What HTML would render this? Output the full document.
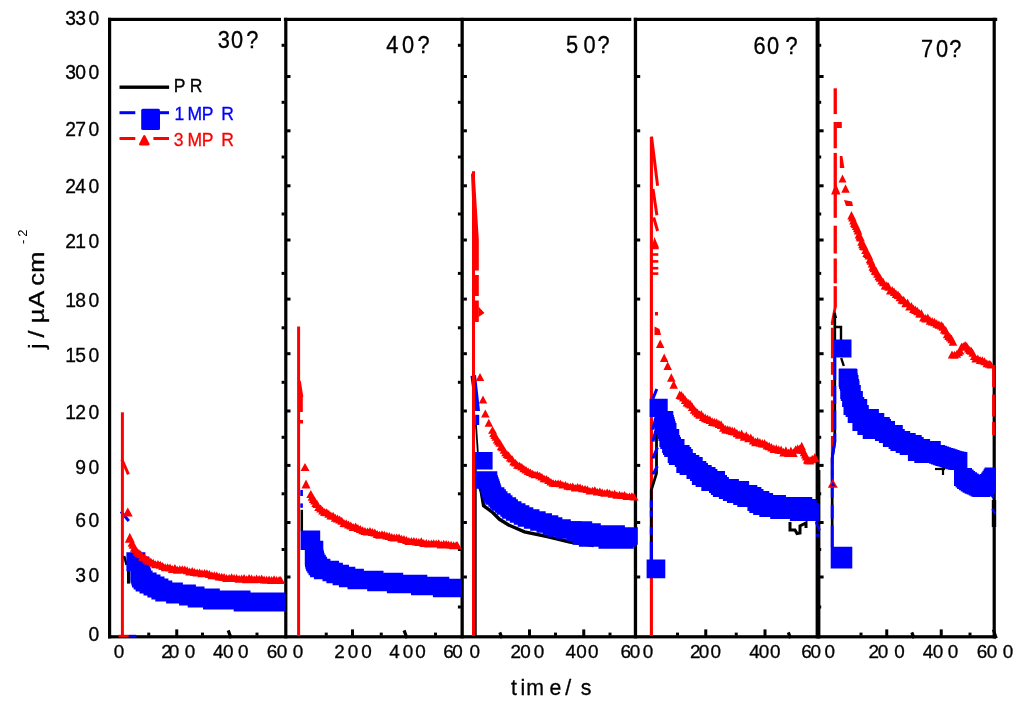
<!DOCTYPE html><html><head><meta charset="utf-8"><title>chart</title><style>html,body{margin:0;padding:0;background:#fff}body{width:1024px;height:705px;overflow:hidden}</style></head><body><svg width="1024" height="705" viewBox="0 0 1024 705" style="display:block;will-change:transform">
<rect x="0.00" y="0.00" width="1024.00" height="705.00" fill="#fff"/>
<rect x="108.00" y="17.80" width="173.00" height="3.20" fill="#000"/><rect x="283.90" y="17.80" width="347.40" height="3.20" fill="#000"/><rect x="633.80" y="17.80" width="363.40" height="3.20" fill="#000"/><rect x="108.00" y="635.20" width="888.00" height="3.20" fill="#000"/><rect x="108.00" y="17.80" width="3.20" height="620.60" fill="#000"/><rect x="284.20" y="17.80" width="3.20" height="620.60" fill="#000"/><rect x="460.50" y="17.80" width="3.30" height="620.60" fill="#000"/><rect x="633.80" y="17.80" width="3.30" height="620.60" fill="#000"/><rect x="815.60" y="17.80" width="4.00" height="620.60" fill="#000"/><rect x="817.50" y="470.00" width="2.90" height="168.40" fill="#000"/><rect x="992.60" y="17.80" width="3.20" height="620.60" fill="#000"/><rect x="286.90" y="75.00" width="3.60" height="3.00" fill="#000"/><rect x="286.90" y="129.30" width="3.60" height="3.00" fill="#000"/><rect x="286.90" y="184.30" width="3.60" height="3.00" fill="#000"/><rect x="286.90" y="238.50" width="3.60" height="3.00" fill="#000"/><rect x="286.90" y="297.60" width="3.60" height="3.00" fill="#000"/><rect x="286.90" y="352.20" width="3.60" height="3.00" fill="#000"/><rect x="286.90" y="409.50" width="3.60" height="3.00" fill="#000"/><rect x="286.90" y="463.90" width="3.60" height="3.00" fill="#000"/><rect x="286.90" y="521.00" width="3.60" height="3.00" fill="#000"/><rect x="286.90" y="575.50" width="3.60" height="3.00" fill="#000"/><rect x="281.60" y="43.80" width="3.00" height="3.00" fill="#000"/><rect x="281.60" y="100.80" width="3.00" height="3.00" fill="#000"/><rect x="281.60" y="155.50" width="3.00" height="3.00" fill="#000"/><rect x="281.60" y="212.50" width="3.00" height="3.00" fill="#000"/><rect x="281.60" y="271.90" width="3.00" height="3.00" fill="#000"/><rect x="281.60" y="326.30" width="3.00" height="3.00" fill="#000"/><rect x="281.60" y="380.80" width="3.00" height="3.00" fill="#000"/><rect x="281.60" y="435.80" width="3.00" height="3.00" fill="#000"/><rect x="281.60" y="492.30" width="3.00" height="3.00" fill="#000"/><rect x="281.60" y="548.00" width="3.00" height="3.00" fill="#000"/><rect x="281.60" y="605.50" width="3.00" height="3.00" fill="#000"/><rect x="463.30" y="75.00" width="3.60" height="3.00" fill="#000"/><rect x="463.30" y="129.30" width="3.60" height="3.00" fill="#000"/><rect x="463.30" y="184.30" width="3.60" height="3.00" fill="#000"/><rect x="463.30" y="238.50" width="3.60" height="3.00" fill="#000"/><rect x="463.30" y="297.60" width="3.60" height="3.00" fill="#000"/><rect x="463.30" y="352.20" width="3.60" height="3.00" fill="#000"/><rect x="463.30" y="409.50" width="3.60" height="3.00" fill="#000"/><rect x="463.30" y="463.90" width="3.60" height="3.00" fill="#000"/><rect x="463.30" y="521.00" width="3.60" height="3.00" fill="#000"/><rect x="463.30" y="575.50" width="3.60" height="3.00" fill="#000"/><rect x="457.90" y="43.80" width="3.00" height="3.00" fill="#000"/><rect x="457.90" y="100.80" width="3.00" height="3.00" fill="#000"/><rect x="457.90" y="155.50" width="3.00" height="3.00" fill="#000"/><rect x="457.90" y="212.50" width="3.00" height="3.00" fill="#000"/><rect x="457.90" y="271.90" width="3.00" height="3.00" fill="#000"/><rect x="457.90" y="326.30" width="3.00" height="3.00" fill="#000"/><rect x="457.90" y="380.80" width="3.00" height="3.00" fill="#000"/><rect x="457.90" y="435.80" width="3.00" height="3.00" fill="#000"/><rect x="457.90" y="492.30" width="3.00" height="3.00" fill="#000"/><rect x="457.90" y="548.00" width="3.00" height="3.00" fill="#000"/><rect x="457.90" y="605.50" width="3.00" height="3.00" fill="#000"/><rect x="636.60" y="75.00" width="3.60" height="3.00" fill="#000"/><rect x="636.60" y="129.30" width="3.60" height="3.00" fill="#000"/><rect x="636.60" y="184.30" width="3.60" height="3.00" fill="#000"/><rect x="636.60" y="238.50" width="3.60" height="3.00" fill="#000"/><rect x="636.60" y="297.60" width="3.60" height="3.00" fill="#000"/><rect x="636.60" y="352.20" width="3.60" height="3.00" fill="#000"/><rect x="636.60" y="409.50" width="3.60" height="3.00" fill="#000"/><rect x="636.60" y="463.90" width="3.60" height="3.00" fill="#000"/><rect x="636.60" y="521.00" width="3.60" height="3.00" fill="#000"/><rect x="636.60" y="575.50" width="3.60" height="3.00" fill="#000"/><rect x="819.00" y="75.00" width="4.60" height="3.00" fill="#000"/><rect x="819.00" y="129.30" width="4.60" height="3.00" fill="#000"/><rect x="819.00" y="184.30" width="4.60" height="3.00" fill="#000"/><rect x="819.00" y="238.50" width="4.60" height="3.00" fill="#000"/><rect x="819.00" y="297.60" width="4.60" height="3.00" fill="#000"/><rect x="819.00" y="352.20" width="4.60" height="3.00" fill="#000"/><rect x="819.00" y="409.50" width="4.60" height="3.00" fill="#000"/><rect x="819.00" y="463.90" width="4.60" height="3.00" fill="#000"/><rect x="819.00" y="521.00" width="4.60" height="3.00" fill="#000"/><rect x="819.00" y="575.50" width="4.60" height="3.00" fill="#000"/><rect x="819.00" y="43.80" width="2.20" height="3.00" fill="#000"/><rect x="819.00" y="100.80" width="2.20" height="3.00" fill="#000"/><rect x="819.00" y="155.50" width="2.20" height="3.00" fill="#000"/><rect x="819.00" y="212.50" width="2.20" height="3.00" fill="#000"/><rect x="819.00" y="271.90" width="2.20" height="3.00" fill="#000"/><rect x="819.00" y="326.30" width="2.20" height="3.00" fill="#000"/><rect x="819.00" y="380.80" width="2.20" height="3.00" fill="#000"/><rect x="819.00" y="435.80" width="2.20" height="3.00" fill="#000"/><rect x="819.00" y="492.30" width="2.20" height="3.00" fill="#000"/><rect x="819.00" y="548.00" width="2.20" height="3.00" fill="#000"/><rect x="819.00" y="605.50" width="2.20" height="3.00" fill="#000"/><rect x="147.25" y="632.60" width="3.00" height="3.00" fill="#000"/><rect x="175.25" y="629.40" width="3.00" height="6.50" fill="#000"/><rect x="201.00" y="632.60" width="3.00" height="3.00" fill="#000"/><path d="M228.2 630.4L231.1 638.3" stroke="#000" stroke-width="3.2" fill="none"/><rect x="255.50" y="632.60" width="3.00" height="3.00" fill="#000"/><rect x="324.75" y="632.60" width="3.00" height="3.00" fill="#000"/><rect x="351.00" y="629.40" width="3.00" height="6.50" fill="#000"/><rect x="379.75" y="632.60" width="3.00" height="3.00" fill="#000"/><path d="M404.1 630.4L406.9 638.3" stroke="#000" stroke-width="3.2" fill="none"/><rect x="434.00" y="632.60" width="3.00" height="3.00" fill="#000"/><path d="M499.8 632.4L502.0 638.2" stroke="#000" stroke-width="3.2" fill="none"/><rect x="528.00" y="629.40" width="3.00" height="6.50" fill="#000"/><rect x="554.00" y="632.60" width="3.00" height="3.00" fill="#000"/><rect x="582.25" y="629.40" width="3.00" height="6.50" fill="#000"/><rect x="608.50" y="632.60" width="3.00" height="3.00" fill="#000"/><rect x="676.00" y="632.60" width="3.00" height="3.00" fill="#000"/><rect x="704.25" y="629.40" width="3.00" height="6.50" fill="#000"/><rect x="734.75" y="632.60" width="3.00" height="3.00" fill="#000"/><rect x="763.50" y="629.40" width="3.00" height="6.50" fill="#000"/><path d="M788.3 632.4L790.5 638.2" stroke="#000" stroke-width="3.2" fill="none"/><rect x="859.50" y="632.60" width="3.00" height="3.00" fill="#000"/><rect x="885.25" y="629.40" width="3.00" height="6.50" fill="#000"/><path d="M911.8 632.4L914.0 638.2" stroke="#000" stroke-width="3.2" fill="none"/><rect x="939.75" y="629.40" width="3.00" height="6.50" fill="#000"/><rect x="968.50" y="632.60" width="3.00" height="3.00" fill="#000"/><path d="M993.3 629.5L996.3 638.3" stroke="#000" stroke-width="3" fill="none"/>
<path fill="none" stroke="#0000ff" stroke-width="3" stroke-linecap="butt" stroke-linejoin="miter" d="M121.0 511.5 L128.8 521.0"/>
<path fill="none" stroke="#ff0000" stroke-width="3" stroke-linecap="butt" stroke-linejoin="miter" d="M122.4 412.3 L122.4 636.0"/>
<path fill="none" stroke="#ff0000" stroke-width="3" stroke-linecap="butt" stroke-linejoin="miter" d="M121.9 459.5 L128.4 474.4"/>
<path fill="none" stroke="#000" stroke-width="2.5" stroke-linecap="butt" stroke-linejoin="miter" d="M124.2 556.0 L126.6 565.0"/>
<path fill="none" stroke="#000" stroke-width="3.2" stroke-linecap="butt" stroke-linejoin="miter" d="M128.6 567.0 L128.6 583.6"/>
<rect x="118.50" y="634.80" width="10.30" height="2.60" fill="#ff0000"/>
<rect x="128.80" y="634.80" width="7.50" height="2.60" fill="#0000ff"/>
<path fill="#0000ff" d="M126.4 552.3h19v19h-19zM126.4 552.3h19v19h-19z"/>
<path fill="#0000ff" d="M130.4 556.5h19v19h-19zM130.4 558.5h19v19h-19zM130.4 560.5h19v19h-19zM130.4 562.5h19v19h-19zM130.7 564.5h19v19h-19zM131.4 566.5h19v19h-19zM132.0 568.5h19v19h-19zM133.6 570.5h19v19h-19zM135.6 572.5h19v19h-19zM137.6 572.5h19v19h-19zM139.5 574.5h19v19h-19zM141.5 574.5h19v19h-19zM143.5 576.5h19v19h-19zM145.5 576.5h19v19h-19zM147.4 578.5h19v19h-19zM149.4 578.5h19v19h-19zM151.4 580.5h19v19h-19zM153.3 580.5h19v19h-19zM155.3 582.5h19v19h-19zM157.4 582.5h19v19h-19zM159.6 582.5h19v19h-19zM161.7 582.5h19v19h-19zM163.9 582.5h19v19h-19zM166.1 584.5h19v19h-19zM168.2 584.5h19v19h-19zM170.4 584.5h19v19h-19zM172.6 584.5h19v19h-19zM174.7 584.5h19v19h-19zM176.9 584.5h19v19h-19zM179.1 586.5h19v19h-19zM181.2 586.5h19v19h-19zM183.4 586.5h19v19h-19zM185.5 586.5h19v19h-19zM187.7 588.5h19v19h-19zM189.9 588.5h19v19h-19zM192.0 588.5h19v19h-19zM194.2 588.5h19v19h-19zM196.4 588.5h19v19h-19zM198.6 588.5h19v19h-19zM200.8 588.5h19v19h-19zM203.0 590.5h19v19h-19zM205.1 590.5h19v19h-19zM207.3 590.5h19v19h-19zM209.5 590.5h19v19h-19zM211.7 590.5h19v19h-19zM213.9 590.5h19v19h-19zM216.1 590.5h19v19h-19zM218.3 590.5h19v19h-19zM220.5 590.5h19v19h-19zM222.7 590.5h19v19h-19zM224.9 590.5h19v19h-19zM227.1 590.5h19v19h-19zM229.3 590.5h19v19h-19zM231.5 590.5h19v19h-19zM233.7 592.5h19v19h-19zM235.9 592.5h19v19h-19zM238.1 592.5h19v19h-19zM240.3 592.5h19v19h-19zM242.5 592.5h19v19h-19zM244.7 592.5h19v19h-19zM246.9 592.5h19v19h-19zM249.1 592.5h19v19h-19zM251.3 592.5h19v19h-19zM253.5 592.5h19v19h-19zM255.7 592.5h19v19h-19zM257.9 592.5h19v19h-19zM260.1 592.5h19v19h-19zM262.3 592.5h19v19h-19zM264.5 592.5h19v19h-19zM266.2 592.5h19v19h-19z"/>
<path fill="#ff0000" d="M127.8 507.5l5 9h-10z"/>
<path fill="#ff0000" d="M129.8 532.7l5 10h-10z"/>
<path fill="#ff0000" d="M132.0 538.7l4.5 8h-9zM133.1 540.7l4.5 8h-9zM134.3 543.7l4.5 8h-9zM135.4 545.0l4.5 8h-9zM137.1 547.6l4.5 8h-9zM138.9 549.0l4.5 8h-9zM140.7 550.3l4.5 8h-9zM142.5 552.8l4.5 8h-9zM144.5 553.5l4.5 8h-9zM146.5 555.6l4.5 8h-9zM148.5 556.5l4.5 8h-9zM150.8 557.5l4.5 8h-9zM153.2 558.8l4.5 8h-9zM155.5 560.2l4.5 8h-9zM157.9 559.9l4.5 8h-9zM160.3 560.8l4.5 8h-9zM162.7 562.0l4.5 8h-9zM165.2 563.2l4.5 8h-9zM167.6 563.2l4.5 8h-9zM170.0 563.6l4.5 8h-9zM172.4 565.1l4.5 8h-9zM174.9 564.0l4.5 8h-9zM177.3 565.7l4.5 8h-9zM179.8 565.2l4.5 8h-9zM182.3 565.3l4.5 8h-9zM184.8 565.6l4.5 8h-9zM187.2 566.3l4.5 8h-9zM189.7 567.5l4.5 8h-9zM192.2 566.9l4.5 8h-9zM194.6 567.9l4.5 8h-9zM197.1 568.5l4.5 8h-9zM199.6 568.5l4.5 8h-9zM202.0 569.2l4.5 8h-9zM204.5 568.9l4.5 8h-9zM206.9 569.3l4.5 8h-9zM209.4 570.0l4.5 8h-9zM211.9 571.2l4.5 8h-9zM214.3 571.3l4.5 8h-9zM216.8 571.6l4.5 8h-9zM219.2 572.5l4.5 8h-9zM221.7 572.8l4.5 8h-9zM224.1 573.0l4.5 8h-9zM226.6 573.9l4.5 8h-9zM229.1 573.9l4.5 8h-9zM231.6 573.3l4.5 8h-9zM234.1 573.9l4.5 8h-9zM236.6 574.0l4.5 8h-9zM239.1 574.7l4.5 8h-9zM241.6 574.5l4.5 8h-9zM244.1 574.0l4.5 8h-9zM246.6 575.2l4.5 8h-9zM249.1 573.9l4.5 8h-9zM251.6 574.5l4.5 8h-9zM254.1 575.2l4.5 8h-9zM256.6 574.4l4.5 8h-9zM259.1 575.0l4.5 8h-9zM261.6 574.4l4.5 8h-9zM264.1 575.5l4.5 8h-9zM266.6 575.7l4.5 8h-9zM269.1 575.5l4.5 8h-9zM271.6 576.1l4.5 8h-9zM274.1 575.3l4.5 8h-9zM276.6 576.0l4.5 8h-9zM279.1 575.9l4.5 8h-9zM280.7 575.9l4.5 8h-9z"/>
<path fill="none" stroke="#ff0000" stroke-width="3" stroke-linecap="butt" stroke-linejoin="miter" d="M298.6 326.6 L298.6 636.0"/>
<path fill="none" stroke="#ff0000" stroke-width="3" stroke-linecap="butt" stroke-linejoin="miter" d="M299.3 381.0 L301.8 397.0"/>
<path fill="none" stroke="#ff0000" stroke-width="3.2" stroke-linecap="butt" stroke-linejoin="miter" d="M301.2 396.0 L301.2 412.0"/>
<rect x="300.00" y="420.00" width="3.00" height="3.50" fill="#ff0000"/>
<path fill="none" stroke="#000" stroke-width="2.5" stroke-linecap="butt" stroke-linejoin="miter" d="M301.8 509.8 L301.8 531.0"/>
<rect x="300.30" y="490.00" width="2.60" height="6.00" fill="#0000ff"/>
<rect x="300.30" y="503.40" width="2.60" height="4.40" fill="#0000ff"/>
<path fill="#0000ff" d="M300.6 530.4h19.6v19.6h-19.6zM300.6 530.4h19.6v19.6h-19.6z"/>
<path fill="#0000ff" d="M304.8 540.8h18.5v18.5h-18.5zM304.8 542.8h18.5v18.5h-18.5zM304.8 544.8h18.5v18.5h-18.5zM304.8 546.8h18.5v18.5h-18.5zM305.0 548.8h18.5v18.5h-18.5zM305.5 550.8h18.5v18.5h-18.5zM306.1 552.8h18.5v18.5h-18.5zM307.3 554.8h18.5v18.5h-18.5zM308.6 556.8h18.5v18.5h-18.5zM310.1 558.8h18.5v18.5h-18.5zM311.9 558.8h18.5v18.5h-18.5zM313.9 560.8h18.5v18.5h-18.5zM316.1 560.8h18.5v18.5h-18.5zM318.3 560.8h18.5v18.5h-18.5zM320.5 560.8h18.5v18.5h-18.5zM322.5 562.8h18.5v18.5h-18.5zM324.4 562.8h18.5v18.5h-18.5zM326.4 564.8h18.5v18.5h-18.5zM328.4 564.8h18.5v18.5h-18.5zM330.5 564.8h18.5v18.5h-18.5zM332.6 566.8h18.5v18.5h-18.5zM334.7 566.8h18.5v18.5h-18.5zM336.8 566.8h18.5v18.5h-18.5zM338.9 568.8h18.5v18.5h-18.5zM341.1 568.8h18.5v18.5h-18.5zM343.2 568.8h18.5v18.5h-18.5zM345.4 568.8h18.5v18.5h-18.5zM347.5 570.8h18.5v18.5h-18.5zM349.7 570.8h18.5v18.5h-18.5zM351.9 570.8h18.5v18.5h-18.5zM354.1 570.8h18.5v18.5h-18.5zM356.3 570.8h18.5v18.5h-18.5zM358.5 570.8h18.5v18.5h-18.5zM360.6 570.8h18.5v18.5h-18.5zM362.8 570.8h18.5v18.5h-18.5zM365.0 570.8h18.5v18.5h-18.5zM367.2 572.8h18.5v18.5h-18.5zM369.4 572.8h18.5v18.5h-18.5zM371.6 572.8h18.5v18.5h-18.5zM373.8 572.8h18.5v18.5h-18.5zM376.0 572.8h18.5v18.5h-18.5zM378.2 572.8h18.5v18.5h-18.5zM380.3 572.8h18.5v18.5h-18.5zM382.5 572.8h18.5v18.5h-18.5zM384.7 572.8h18.5v18.5h-18.5zM386.9 574.8h18.5v18.5h-18.5zM389.1 574.8h18.5v18.5h-18.5zM391.3 574.8h18.5v18.5h-18.5zM393.5 574.8h18.5v18.5h-18.5zM395.7 574.8h18.5v18.5h-18.5zM397.9 574.8h18.5v18.5h-18.5zM400.1 574.8h18.5v18.5h-18.5zM402.3 574.8h18.5v18.5h-18.5zM404.5 574.8h18.5v18.5h-18.5zM406.7 574.8h18.5v18.5h-18.5zM408.8 574.8h18.5v18.5h-18.5zM411.0 576.8h18.5v18.5h-18.5zM413.2 576.8h18.5v18.5h-18.5zM415.4 576.8h18.5v18.5h-18.5zM417.6 576.8h18.5v18.5h-18.5zM419.8 576.8h18.5v18.5h-18.5zM422.0 576.8h18.5v18.5h-18.5zM424.2 576.8h18.5v18.5h-18.5zM426.4 576.8h18.5v18.5h-18.5zM428.6 576.8h18.5v18.5h-18.5zM430.8 576.8h18.5v18.5h-18.5zM432.9 578.8h18.5v18.5h-18.5zM435.1 578.8h18.5v18.5h-18.5zM437.3 578.8h18.5v18.5h-18.5zM439.5 578.8h18.5v18.5h-18.5zM441.7 578.8h18.5v18.5h-18.5zM443.2 578.8h18.5v18.5h-18.5z"/>
<path fill="#ff0000" d="M305.0 463.0l4.5 8h-9z"/>
<path fill="#ff0000" d="M306.0 479.5l4.5 9h-9z"/>
<path fill="#ff0000" d="M310.8 489.9l4.5 8h-9zM312.1 492.7l4.5 8h-9zM313.3 495.0l4.5 8h-9zM314.6 496.4l4.5 8h-9zM315.8 498.9l4.5 8h-9zM317.1 500.1l4.5 8h-9zM318.7 503.0l4.5 8h-9zM320.7 504.5l4.5 8h-9zM322.6 506.6l4.5 8h-9zM324.6 507.9l4.5 8h-9zM326.7 508.3l4.5 8h-9zM328.8 509.8l4.5 8h-9zM330.9 511.6l4.5 8h-9zM333.1 511.8l4.5 8h-9zM335.3 513.7l4.5 8h-9zM337.5 514.5l4.5 8h-9zM339.7 515.6l4.5 8h-9zM341.8 516.7l4.5 8h-9zM344.0 519.1l4.5 8h-9zM346.2 519.3l4.5 8h-9zM348.5 520.5l4.5 8h-9zM350.8 521.5l4.5 8h-9zM353.2 523.1l4.5 8h-9zM355.6 522.6l4.5 8h-9zM357.9 524.0l4.5 8h-9zM360.3 525.0l4.5 8h-9zM362.7 526.3l4.5 8h-9zM365.0 527.0l4.5 8h-9zM367.5 527.6l4.5 8h-9zM369.9 527.1l4.5 8h-9zM372.4 528.0l4.5 8h-9zM374.8 528.6l4.5 8h-9zM377.2 530.0l4.5 8h-9zM379.6 530.8l4.5 8h-9zM382.0 530.2l4.5 8h-9zM384.4 530.8l4.5 8h-9zM386.9 531.4l4.5 8h-9zM389.3 532.0l4.5 8h-9zM391.8 532.9l4.5 8h-9zM394.2 533.6l4.5 8h-9zM396.7 533.5l4.5 8h-9zM399.1 533.6l4.5 8h-9zM401.6 534.7l4.5 8h-9zM404.0 535.1l4.5 8h-9zM406.5 535.9l4.5 8h-9zM408.9 537.0l4.5 8h-9zM411.4 537.0l4.5 8h-9zM413.9 537.0l4.5 8h-9zM416.4 537.5l4.5 8h-9zM418.8 537.9l4.5 8h-9zM421.3 537.2l4.5 8h-9zM423.8 538.9l4.5 8h-9zM426.3 539.0l4.5 8h-9zM428.8 539.4l4.5 8h-9zM431.3 539.6l4.5 8h-9zM433.7 539.2l4.5 8h-9zM436.2 539.5l4.5 8h-9zM438.7 539.3l4.5 8h-9zM441.2 540.5l4.5 8h-9zM443.7 539.8l4.5 8h-9zM446.2 540.1l4.5 8h-9zM448.6 540.6l4.5 8h-9zM451.1 540.8l4.5 8h-9zM453.6 541.3l4.5 8h-9zM456.1 541.2l4.5 8h-9zM457.3 541.2l4.5 8h-9z"/>
<path fill="#0000ff" d="M470.5 376L476 375L480 411L475 411z"/>
<path fill="none" stroke="#ff0000" stroke-width="3" stroke-linecap="butt" stroke-linejoin="miter" d="M473.5 171.3 L473.5 636.0"/>
<path fill="#ff0000" d="M471 174L474.5 171.5L478.8 240L478.8 270.5L475 270.5z"/>
<rect x="475.00" y="275.00" width="3.80" height="21.00" fill="#ff0000"/>
<rect x="475.00" y="300.50" width="3.80" height="21.50" fill="#ff0000"/>
<path fill="#ff0000" d="M478.5 306.5L484.5 313L478.5 317z"/>
<path fill="none" stroke="#000" stroke-width="1.6" stroke-linecap="butt" stroke-linejoin="miter" d="M475.9 455.0 L475.9 636.0"/>
<path fill="none" stroke="#000" stroke-width="1.8" stroke-linecap="butt" stroke-linejoin="miter" d="M476.0 425.0 L477.8 452.0"/>
<path fill="none" stroke="#000" stroke-width="3.4" stroke-linecap="butt" stroke-linejoin="miter" d="M479.5 486.0 L481.3 492.0 L483.6 505.7 L492.7 512.5 L499.5 519.3 L508.6 525.0 L524.5 531.8 L547.2 536.5 L569.9 542.0 L593.7 545.6"/>
<rect x="475.20" y="414.80" width="4.00" height="10.20" fill="#0000ff"/>
<path fill="#0000ff" d="M475.0 452.0h17.6v17.6h-17.6zM475.0 452.0h17.6v17.6h-17.6z"/>
<path fill="#0000ff" d="M475.4 471.2h17.6v17.6h-17.6zM477.6 471.2h17.6v17.6h-17.6zM479.7 471.2h17.6v17.6h-17.6zM480.4 475.2h17.6v17.6h-17.6zM481.1 477.2h17.6v17.6h-17.6zM481.8 479.2h17.6v17.6h-17.6zM482.4 481.2h17.6v17.6h-17.6zM483.1 483.2h17.6v17.6h-17.6zM483.7 485.2h17.6v17.6h-17.6zM485.3 487.2h17.6v17.6h-17.6zM486.8 487.2h17.6v17.6h-17.6zM488.3 489.2h17.6v17.6h-17.6zM489.9 491.2h17.6v17.6h-17.6zM491.4 493.2h17.6v17.6h-17.6zM493.1 493.2h17.6v17.6h-17.6zM494.9 495.2h17.6v17.6h-17.6zM496.7 497.2h17.6v17.6h-17.6zM498.5 497.2h17.6v17.6h-17.6zM500.3 499.2h17.6v17.6h-17.6zM502.1 501.2h17.6v17.6h-17.6zM503.9 501.2h17.6v17.6h-17.6zM505.9 503.2h17.6v17.6h-17.6zM507.9 503.2h17.6v17.6h-17.6zM509.8 505.2h17.6v17.6h-17.6zM511.8 505.2h17.6v17.6h-17.6zM513.8 507.2h17.6v17.6h-17.6zM515.7 507.2h17.6v17.6h-17.6zM517.7 509.2h17.6v17.6h-17.6zM519.8 509.2h17.6v17.6h-17.6zM521.9 509.2h17.6v17.6h-17.6zM523.9 511.2h17.6v17.6h-17.6zM526.0 511.2h17.6v17.6h-17.6zM528.1 511.2h17.6v17.6h-17.6zM530.2 513.2h17.6v17.6h-17.6zM532.3 513.2h17.6v17.6h-17.6zM534.4 513.2h17.6v17.6h-17.6zM536.5 515.2h17.6v17.6h-17.6zM538.6 515.2h17.6v17.6h-17.6zM540.7 515.2h17.6v17.6h-17.6zM542.7 517.2h17.6v17.6h-17.6zM544.8 517.2h17.6v17.6h-17.6zM546.9 519.2h17.6v17.6h-17.6zM549.0 519.2h17.6v17.6h-17.6zM551.1 519.2h17.6v17.6h-17.6zM553.2 519.2h17.6v17.6h-17.6zM555.4 521.2h17.6v17.6h-17.6zM557.6 521.2h17.6v17.6h-17.6zM559.7 521.2h17.6v17.6h-17.6zM561.9 521.2h17.6v17.6h-17.6zM564.1 521.2h17.6v17.6h-17.6zM566.2 523.2h17.6v17.6h-17.6z"/>
<path fill="#0000ff" d="M568.2 523.2h17.6v17.6h-17.6zM570.3 521.2h17.6v17.6h-17.6zM572.5 527.2h17.6v17.6h-17.6zM574.6 521.2h17.6v17.6h-17.6zM576.7 525.2h17.6v17.6h-17.6zM578.9 529.2h17.6v17.6h-17.6zM581.0 523.2h17.6v17.6h-17.6zM583.2 523.2h17.6v17.6h-17.6zM585.4 525.2h17.6v17.6h-17.6zM587.6 529.2h17.6v17.6h-17.6zM589.8 529.2h17.6v17.6h-17.6zM591.9 525.2h17.6v17.6h-17.6zM594.1 527.2h17.6v17.6h-17.6zM596.3 527.2h17.6v17.6h-17.6zM598.5 531.2h17.6v17.6h-17.6zM600.7 527.2h17.6v17.6h-17.6zM602.9 529.2h17.6v17.6h-17.6zM605.1 525.2h17.6v17.6h-17.6zM607.3 525.2h17.6v17.6h-17.6zM609.5 529.2h17.6v17.6h-17.6zM611.7 531.2h17.6v17.6h-17.6zM613.9 531.2h17.6v17.6h-17.6zM616.1 531.2h17.6v17.6h-17.6zM618.3 529.2h17.6v17.6h-17.6zM620.2 527.2h17.6v17.6h-17.6z"/>
<path fill="#ff0000" d="M480.0 372.9l4.25 8h-8.5z"/>
<path fill="#ff0000" d="M483.0 395.4l4.25 8h-8.5z"/>
<path fill="#ff0000" d="M485.3 409.4l4.25 8h-8.5z"/>
<path fill="#ff0000" d="M488.8 418.8l4.25 8h-8.5z"/>
<path fill="#ff0000" d="M492.5 426.2l4.5 7.5h-9zM493.7 429.4l4.5 7.5h-9zM494.8 431.6l4.5 7.5h-9zM496.0 433.3l4.5 7.5h-9zM497.2 435.9l4.5 7.5h-9zM498.5 437.7l4.5 7.5h-9zM499.9 439.3l4.5 7.5h-9zM501.2 442.7l4.5 7.5h-9zM502.6 443.8l4.5 7.5h-9zM504.1 446.3l4.5 7.5h-9zM505.6 448.7l4.5 7.5h-9zM507.1 450.4l4.5 7.5h-9zM508.6 451.6l4.5 7.5h-9zM510.3 454.0l4.5 7.5h-9zM512.0 455.0l4.5 7.5h-9zM513.7 458.0l4.5 7.5h-9zM515.6 459.1l4.5 7.5h-9zM517.6 461.2l4.5 7.5h-9zM519.6 461.8l4.5 7.5h-9zM521.7 463.1l4.5 7.5h-9zM523.8 464.8l4.5 7.5h-9zM526.0 466.0l4.5 7.5h-9zM528.2 467.4l4.5 7.5h-9zM530.4 468.6l4.5 7.5h-9zM532.7 469.8l4.5 7.5h-9zM535.0 470.7l4.5 7.5h-9zM537.3 470.7l4.5 7.5h-9zM539.7 471.7l4.5 7.5h-9zM541.9 473.0l4.5 7.5h-9zM544.1 474.8l4.5 7.5h-9zM546.4 475.0l4.5 7.5h-9zM548.6 476.5l4.5 7.5h-9zM550.9 478.0l4.5 7.5h-9zM553.2 479.3l4.5 7.5h-9zM555.6 479.5l4.5 7.5h-9zM558.1 479.6l4.5 7.5h-9zM560.5 479.7l4.5 7.5h-9zM562.9 480.9l4.5 7.5h-9zM565.4 481.1l4.5 7.5h-9zM567.8 482.3l4.5 7.5h-9zM570.3 482.7l4.5 7.5h-9zM572.7 482.6l4.5 7.5h-9zM575.2 484.0l4.5 7.5h-9zM577.6 483.1l4.5 7.5h-9zM580.1 483.6l4.5 7.5h-9zM582.5 484.7l4.5 7.5h-9zM585.0 485.0l4.5 7.5h-9zM587.4 485.6l4.5 7.5h-9zM589.9 486.9l4.5 7.5h-9zM592.4 486.7l4.5 7.5h-9zM594.8 486.2l4.5 7.5h-9zM597.3 488.1l4.5 7.5h-9zM599.8 487.6l4.5 7.5h-9zM602.2 488.5l4.5 7.5h-9zM604.7 489.2l4.5 7.5h-9zM607.2 488.5l4.5 7.5h-9zM609.6 489.3l4.5 7.5h-9zM612.1 490.2l4.5 7.5h-9zM614.6 489.7l4.5 7.5h-9zM617.0 491.2l4.5 7.5h-9zM619.5 490.8l4.5 7.5h-9zM622.0 491.5l4.5 7.5h-9zM624.5 491.0l4.5 7.5h-9zM626.9 492.6l4.5 7.5h-9zM629.4 492.5l4.5 7.5h-9zM631.9 492.3l4.5 7.5h-9zM634.0 492.9l4.5 7.5h-9z"/>
<path fill="none" stroke="#ff0000" stroke-width="3.1" stroke-linecap="butt" stroke-linejoin="miter" d="M651.4 136.8 L651.4 636.0"/>
<path fill="none" stroke="#ff0000" stroke-width="3" stroke-linecap="butt" stroke-linejoin="miter" d="M651.5 136.8 L657.6 185.7"/>
<path fill="none" stroke="#ff0000" stroke-width="3" stroke-linecap="butt" stroke-linejoin="miter" d="M653.0 189.0 L656.9 215.2"/>
<path fill="none" stroke="#ff0000" stroke-width="3" stroke-linecap="butt" stroke-linejoin="miter" d="M653.7 217.5 L657.6 231.0"/>
<path fill="#ff0000" d="M651 249.3L654.5 237L658.7 247L658.7 249.3z"/>
<rect x="651.00" y="253.20" width="7.30" height="2.60" fill="#ff0000"/>
<rect x="651.00" y="260.10" width="7.30" height="2.60" fill="#ff0000"/>
<rect x="651.00" y="266.90" width="7.30" height="2.60" fill="#ff0000"/>
<rect x="651.00" y="272.30" width="7.30" height="2.60" fill="#ff0000"/>
<rect x="655.00" y="312.00" width="3.00" height="3.50" fill="#ff0000"/>
<path fill="none" stroke="#000" stroke-width="2.8" stroke-linecap="butt" stroke-linejoin="miter" d="M651.3 560.0 L651.3 490.2 L656.5 473.3 L656.5 420.0"/>
<rect x="649.80" y="500.30" width="3.10" height="7.80" fill="#0000ff"/>
<rect x="649.80" y="510.50" width="3.10" height="6.20" fill="#0000ff"/>
<rect x="649.80" y="526.90" width="3.10" height="7.80" fill="#0000ff"/>
<rect x="649.80" y="541.70" width="3.10" height="18.30" fill="#0000ff"/>
<path fill="none" stroke="#0000ff" stroke-width="3" stroke-linecap="butt" stroke-linejoin="miter" d="M656.8 389.0 L652.9 398.8"/>
<path fill="none" stroke="#0000ff" stroke-width="3" stroke-linecap="butt" stroke-linejoin="miter" d="M655.8 417.7 L652.9 429.6"/>
<path fill="none" stroke="#0000ff" stroke-width="3" stroke-linecap="butt" stroke-linejoin="miter" d="M655.8 430.6 L652.9 441.5"/>
<path fill="none" stroke="#0000ff" stroke-width="3" stroke-linecap="butt" stroke-linejoin="miter" d="M657.4 447.5 L652.9 458.4"/>
<path fill="none" stroke="#0000ff" stroke-width="3" stroke-linecap="butt" stroke-linejoin="miter" d="M657.4 466.3 L652.9 474.2"/>
<path fill="#0000ff" d="M646.6 559.6h18.7v18.7h-18.7zM646.6 559.6h18.7v18.7h-18.7z"/>
<path fill="#0000ff" d="M649.6 398.8h18.1v18.1h-18.1zM649.6 398.8h18.1v18.1h-18.1z"/>
<path fill="#0000ff" d="M654.7 413.0h18v18h-18zM655.3 411.0h18v18h-18zM655.9 415.0h18v18h-18zM656.5 417.0h18v18h-18zM657.0 419.0h18v18h-18zM657.6 421.0h18v18h-18zM658.5 423.0h18v18h-18zM659.4 429.0h18v18h-18zM660.3 431.0h18v18h-18zM661.2 429.0h18v18h-18zM662.1 435.0h18v18h-18zM663.0 437.0h18v18h-18zM664.2 439.0h18v18h-18zM665.3 439.0h18v18h-18zM666.5 439.0h18v18h-18zM667.7 445.0h18v18h-18zM668.9 447.0h18v18h-18zM670.1 445.0h18v18h-18zM671.6 445.0h18v18h-18zM673.2 447.0h18v18h-18zM674.8 449.0h18v18h-18zM676.3 455.0h18v18h-18zM677.9 453.0h18v18h-18zM679.6 457.0h18v18h-18zM681.3 455.0h18v18h-18zM683.0 457.0h18v18h-18zM684.7 457.0h18v18h-18zM686.5 461.0h18v18h-18zM688.3 461.0h18v18h-18zM690.0 463.0h18v18h-18zM691.9 467.0h18v18h-18zM693.7 465.0h18v18h-18zM695.6 469.0h18v18h-18zM697.5 467.0h18v18h-18zM699.4 469.0h18v18h-18zM701.3 473.0h18v18h-18zM703.1 473.0h18v18h-18zM705.0 471.0h18v18h-18zM707.0 471.0h18v18h-18zM709.0 475.0h18v18h-18zM710.9 477.0h18v18h-18zM712.9 479.0h18v18h-18zM714.9 479.0h18v18h-18zM716.9 479.0h18v18h-18zM718.9 481.0h18v18h-18zM720.9 479.0h18v18h-18zM722.9 483.0h18v18h-18zM725.0 481.0h18v18h-18zM727.0 485.0h18v18h-18zM729.1 485.0h18v18h-18zM731.1 481.0h18v18h-18zM733.2 487.0h18v18h-18zM735.2 485.0h18v18h-18zM737.3 489.0h18v18h-18zM739.3 485.0h18v18h-18zM741.4 487.0h18v18h-18zM743.4 487.0h18v18h-18zM745.5 489.0h18v18h-18zM747.4 493.0h18v18h-18zM749.3 495.0h18v18h-18zM751.3 491.0h18v18h-18zM753.2 497.0h18v18h-18zM755.1 493.0h18v18h-18zM757.2 495.0h18v18h-18zM759.3 499.0h18v18h-18zM761.5 499.0h18v18h-18zM763.7 499.0h18v18h-18zM765.8 499.0h18v18h-18zM768.0 495.0h18v18h-18zM770.2 501.0h18v18h-18zM772.3 497.0h18v18h-18zM774.5 497.0h18v18h-18zM776.7 497.0h18v18h-18zM778.9 499.0h18v18h-18zM781.1 497.0h18v18h-18zM783.3 497.0h18v18h-18zM785.5 501.0h18v18h-18zM787.7 501.0h18v18h-18zM789.9 503.0h18v18h-18zM792.1 497.0h18v18h-18zM794.3 497.0h18v18h-18zM796.5 501.0h18v18h-18zM798.7 499.0h18v18h-18zM800.9 503.0h18v18h-18zM801.0 503.0h18v18h-18z"/>
<path fill="none" stroke="#000" stroke-width="3" stroke-linecap="butt" stroke-linejoin="miter" d="M790.0 522.0 L790.0 530.0 L795.0 530.0 L797.0 533.5 L800.0 533.0 L800.0 526.0 L806.0 523.0 L806.0 528.0"/>
<path fill="none" stroke="#0000ff" stroke-width="2.6" stroke-linecap="butt" stroke-linejoin="miter" d="M816.0 522.0 L819.6 530.4"/>
<rect x="816.00" y="533.90" width="3.20" height="2.80" fill="#0000ff"/>
<path fill="#ff0000" d="M654.5 326.5l5 2.5l1.5 6h-6.5z"/>
<path fill="#ff0000" d="M660.2 339.6l4.25 8.5h-8.5z"/>
<path fill="#ff0000" d="M664.2 353.4l4.25 8.5h-8.5z"/>
<path fill="#ff0000" d="M667.7 361.4l4.25 8.5h-8.5z"/>
<path fill="#ff0000" d="M671.3 373.2l4.25 8.5h-8.5z"/>
<path fill="#ff0000" d="M673.7 380.2l4.25 8.5h-8.5z"/>
<path fill="#ff0000" d="M679.7 390.4l4.25 8.6h-8.5zM681.5 391.1l4.25 8.6h-8.5zM683.3 393.0l4.25 8.6h-8.5zM685.1 395.3l4.25 8.6h-8.5zM686.9 397.8l4.25 8.6h-8.5zM688.7 398.8l4.25 8.6h-8.5zM690.4 399.9l4.25 8.6h-8.5zM692.2 402.4l4.25 8.6h-8.5zM694.0 405.1l4.25 8.6h-8.5zM695.8 406.9l4.25 8.6h-8.5zM697.6 408.6l4.25 8.6h-8.5zM699.5 410.2l4.25 8.6h-8.5zM701.3 410.1l4.25 8.6h-8.5zM703.2 412.5l4.25 8.6h-8.5zM705.3 413.6l4.25 8.6h-8.5zM707.6 414.5l4.25 8.6h-8.5zM709.9 415.4l4.25 8.6h-8.5zM712.2 417.3l4.25 8.6h-8.5zM714.4 417.7l4.25 8.6h-8.5zM716.7 418.2l4.25 8.6h-8.5zM718.9 419.5l4.25 8.6h-8.5zM721.1 420.3l4.25 8.6h-8.5zM723.3 423.2l4.25 8.6h-8.5zM725.5 424.8l4.25 8.6h-8.5zM727.7 425.2l4.25 8.6h-8.5zM729.9 425.7l4.25 8.6h-8.5zM732.2 426.5l4.25 8.6h-8.5zM734.5 427.0l4.25 8.6h-8.5zM736.9 428.7l4.25 8.6h-8.5zM739.2 430.2l4.25 8.6h-8.5zM741.6 429.4l4.25 8.6h-8.5zM744.0 432.2l4.25 8.6h-8.5zM746.3 431.3l4.25 8.6h-8.5zM748.5 433.7l4.25 8.6h-8.5zM750.8 433.5l4.25 8.6h-8.5zM753.1 435.8l4.25 8.6h-8.5zM755.4 437.6l4.25 8.6h-8.5zM757.6 437.1l4.25 8.6h-8.5zM759.9 438.1l4.25 8.6h-8.5zM762.3 438.9l4.25 8.6h-8.5zM764.6 439.1l4.25 8.6h-8.5zM766.9 440.8l4.25 8.6h-8.5zM769.2 441.7l4.25 8.6h-8.5zM771.5 442.9l4.25 8.6h-8.5zM773.9 444.3l4.25 8.6h-8.5zM776.3 444.2l4.25 8.6h-8.5zM778.7 445.2l4.25 8.6h-8.5zM781.1 445.4l4.25 8.6h-8.5zM783.5 447.8l4.25 8.6h-8.5zM785.9 446.3l4.25 8.6h-8.5zM788.4 448.4l4.25 8.6h-8.5zM790.9 446.6l4.25 8.6h-8.5zM793.4 448.3l4.25 8.6h-8.5zM795.6 445.2l4.25 8.6h-8.5zM797.7 444.3l4.25 8.6h-8.5zM799.7 444.5l4.25 8.6h-8.5zM801.7 441.7l4.25 8.6h-8.5zM802.8 445.4l4.25 8.6h-8.5zM804.0 447.7l4.25 8.6h-8.5zM805.2 450.0l4.25 8.6h-8.5zM806.2 451.9l4.25 8.6h-8.5zM807.2 454.9l4.25 8.6h-8.5zM808.2 455.7l4.25 8.6h-8.5zM810.0 455.9l4.25 8.6h-8.5zM812.2 454.7l4.25 8.6h-8.5zM814.5 453.6l4.25 8.6h-8.5zM815.0 453.0l4.25 8.6h-8.5z"/>
<rect x="833.60" y="88.30" width="3.30" height="25.80" fill="#ff0000"/>
<rect x="833.60" y="122.00" width="3.30" height="26.30" fill="#ff0000"/>
<rect x="833.60" y="152.90" width="3.30" height="64.90" fill="#ff0000"/>
<rect x="833.60" y="225.70" width="3.30" height="27.80" fill="#ff0000"/>
<rect x="833.60" y="258.50" width="3.30" height="24.80" fill="#ff0000"/>
<rect x="833.60" y="286.20" width="3.30" height="21.30" fill="#ff0000"/>
<rect x="836.50" y="122.00" width="5.30" height="6.00" fill="#ff0000"/>
<path fill="#ff0000" d="M835.8 183.4l4.7 11h-9.4z"/>
<path fill="none" stroke="#ff0000" stroke-width="2.8" stroke-linecap="butt" stroke-linejoin="miter" d="M835.2 307.0 L832.2 323.0"/>
<rect x="830.90" y="322.00" width="2.60" height="3.00" fill="#ff0000"/>
<rect x="830.90" y="327.70" width="2.60" height="30.60" fill="#ff0000"/>
<rect x="830.90" y="362.00" width="2.60" height="12.80" fill="#ff0000"/>
<rect x="830.90" y="380.00" width="2.60" height="16.50" fill="#ff0000"/>
<rect x="830.90" y="400.40" width="2.60" height="31.80" fill="#ff0000"/>
<rect x="830.90" y="436.00" width="2.60" height="28.10" fill="#ff0000"/>
<rect x="830.90" y="470.50" width="2.60" height="5.10" fill="#ff0000"/>
<path fill="none" stroke="#000" stroke-width="2.7" stroke-linecap="butt" stroke-linejoin="miter" d="M834.8 313.0 L834.8 442.0 L832.2 458.0 L832.2 547.0"/>
<path fill="none" stroke="#000" stroke-width="2.4" stroke-linecap="butt" stroke-linejoin="miter" d="M834.8 327.0 L841.0 327.0 L841.0 340.0"/>
<path d="M832.8 318L835 311L837.2 318z" fill="#000"/>
<path fill="none" stroke="#000" stroke-width="2.4" stroke-linecap="butt" stroke-linejoin="miter" d="M841.2 358.0 L843.8 366.0"/>
<path fill="none" stroke="#0000ff" stroke-width="2.9" stroke-linecap="butt" stroke-linejoin="miter" stroke-dasharray="22 6 18 6.5 19.2 3.8 64.4 7 14 7.1 40" d="M834.8 358.0 L834.8 442.0 L832.2 458.0 L832.2 547.0"/>
<path fill="#0000ff" stroke="#ff0000" stroke-width="1.5" d="M832.8 480.5l3.7 6.5h-7.4z"/>
<path fill="#0000ff" d="M830.7 546.8h21.6v21.6h-21.6zM830.7 546.8h21.6v21.6h-21.6z"/>
<path fill="#0000ff" d="M833.5 339.4h18v18h-18zM833.5 339.4h18v18h-18z"/>
<clipPath id="c5"><rect x="800" y="0" width="195.8" height="705"/></clipPath><g clip-path="url(#c5)">
<path fill="#0000ff" d="M838.8 368.6h18v18h-18zM838.8 368.6h18v18h-18z"/>
<path fill="#0000ff" d="M838.8 369.0h18v18h-18zM839.1 371.0h18v18h-18zM839.5 369.0h18v18h-18zM839.8 373.0h18v18h-18zM840.2 381.0h18v18h-18zM840.5 375.0h18v18h-18zM840.8 383.0h18v18h-18zM841.2 379.0h18v18h-18zM841.5 381.0h18v18h-18zM842.1 389.0h18v18h-18zM842.8 385.0h18v18h-18zM843.5 397.0h18v18h-18zM844.2 391.0h18v18h-18zM844.9 391.0h18v18h-18zM845.6 399.0h18v18h-18zM846.3 397.0h18v18h-18zM847.7 405.0h18v18h-18zM849.2 399.0h18v18h-18zM850.8 405.0h18v18h-18zM852.4 413.0h18v18h-18zM853.9 411.0h18v18h-18zM855.7 411.0h18v18h-18zM857.4 417.0h18v18h-18zM859.2 409.0h18v18h-18zM860.9 409.0h18v18h-18zM862.7 421.0h18v18h-18zM864.5 413.0h18v18h-18zM866.3 413.0h18v18h-18zM868.1 417.0h18v18h-18zM870.0 421.0h18v18h-18zM871.8 417.0h18v18h-18zM873.0 419.0h18v18h-18z"/>
<path fill="#0000ff" d="M875.0 423.0h18v18h-18zM877.0 421.0h18v18h-18zM878.9 425.0h18v18h-18zM880.9 425.0h18v18h-18zM882.9 429.0h18v18h-18zM884.8 425.0h18v18h-18zM886.8 429.0h18v18h-18zM888.6 431.0h18v18h-18zM890.4 433.0h18v18h-18zM892.2 431.0h18v18h-18zM894.0 433.0h18v18h-18zM895.7 435.0h18v18h-18zM897.7 433.0h18v18h-18zM899.7 437.0h18v18h-18zM901.7 435.0h18v18h-18zM903.7 435.0h18v18h-18zM905.7 437.0h18v18h-18zM907.9 443.0h18v18h-18zM910.0 443.0h18v18h-18zM912.1 439.0h18v18h-18zM914.3 445.0h18v18h-18zM916.4 443.0h18v18h-18zM918.5 441.0h18v18h-18zM920.7 445.0h18v18h-18zM922.8 441.0h18v18h-18zM924.0 445.0h18v18h-18z"/>
<path fill="#0000ff" d="M927.0 445.0h18v18h-18zM929.1 445.8h18v18h-18zM931.1 446.5h18v18h-18zM933.2 447.2h18v18h-18zM935.3 447.9h18v18h-18zM937.4 448.5h18v18h-18zM939.5 449.2h18v18h-18zM941.6 450.0h18v18h-18zM943.6 450.8h18v18h-18zM945.7 451.3h18v18h-18zM947.9 451.7h18v18h-18zM949.4 452.0h18v18h-18z"/>
<path fill="#0000ff" d="M954.0 468.0h18v18h-18zM955.6 469.6h18v18h-18zM957.1 471.1h18v18h-18zM959.0 472.3h18v18h-18zM960.8 473.5h18v18h-18zM962.6 474.7h18v18h-18zM964.6 475.7h18v18h-18zM966.6 476.5h18v18h-18zM968.7 477.4h18v18h-18zM970.6 478.5h18v18h-18zM972.4 479.1h18v18h-18zM974.3 478.0h18v18h-18zM976.2 476.9h18v18h-18zM977.9 475.5h18v18h-18zM979.6 474.1h18v18h-18zM981.2 472.6h18v18h-18zM982.4 470.8h18v18h-18zM983.6 468.9h18v18h-18zM984.5 467.6h18v18h-18z"/>
</g>
<path fill="none" stroke="#000" stroke-width="2.2" stroke-linecap="butt" stroke-linejoin="miter" d="M935.0 469.0 L945.0 469.0"/>
<path fill="none" stroke="#000" stroke-width="2.2" stroke-linecap="butt" stroke-linejoin="miter" d="M943.0 469.0 L943.0 475.0"/>
<path fill="#ff0000" d="M839.8 156l2.6 0l2 12h-4.6z"/>
<path fill="#ff0000" d="M842.5 174.5l4 8h-8z"/>
<path fill="#ff0000" d="M845.5 184.2l4.25 8.5h-8.5z"/>
<path fill="#ff0000" d="M844 200l8 1.5l1 4.5h-7z"/>
<path fill="#ff0000" d="M851.5 210.9l4.25 8.5h-8.5zM852.4 213.0l4.25 8.5h-8.5zM853.4 216.1l4.25 8.5h-8.5zM854.3 218.6l4.25 8.5h-8.5zM855.2 219.4l4.25 8.5h-8.5zM856.1 221.5l4.25 8.5h-8.5zM857.1 223.8l4.25 8.5h-8.5zM858.0 226.1l4.25 8.5h-8.5zM858.9 230.0l4.25 8.5h-8.5zM859.8 232.0l4.25 8.5h-8.5zM860.6 232.9l4.25 8.5h-8.5zM861.5 237.3l4.25 8.5h-8.5zM862.4 239.7l4.25 8.5h-8.5zM863.3 241.6l4.25 8.5h-8.5zM864.4 241.9l4.25 8.5h-8.5zM865.5 245.6l4.25 8.5h-8.5zM866.6 248.5l4.25 8.5h-8.5zM867.7 249.6l4.25 8.5h-8.5zM868.8 251.0l4.25 8.5h-8.5zM870.0 254.7l4.25 8.5h-8.5zM870.9 256.3l4.25 8.5h-8.5zM871.9 258.9l4.25 8.5h-8.5zM872.8 262.3l4.25 8.5h-8.5zM873.8 263.8l4.25 8.5h-8.5zM875.0 266.2l4.25 8.5h-8.5zM876.2 266.8l4.25 8.5h-8.5zM877.4 269.3l4.25 8.5h-8.5zM878.7 271.7l4.25 8.5h-8.5zM879.9 273.2l4.25 8.5h-8.5zM881.5 276.0l4.25 8.5h-8.5zM883.2 277.7l4.25 8.5h-8.5zM885.0 281.0l4.25 8.5h-8.5zM886.8 281.2l4.25 8.5h-8.5zM888.5 282.3l4.25 8.5h-8.5zM890.3 286.1l4.25 8.5h-8.5zM892.2 286.1l4.25 8.5h-8.5zM894.1 287.6l4.25 8.5h-8.5zM896.0 289.6l4.25 8.5h-8.5zM898.0 290.6l4.25 8.5h-8.5zM899.9 292.7l4.25 8.5h-8.5zM901.8 295.2l4.25 8.5h-8.5zM903.7 295.8l4.25 8.5h-8.5zM905.6 298.7l4.25 8.5h-8.5zM907.6 298.6l4.25 8.5h-8.5zM909.5 302.0l4.25 8.5h-8.5zM911.4 301.9l4.25 8.5h-8.5zM913.4 304.5l4.25 8.5h-8.5zM915.4 305.5l4.25 8.5h-8.5zM917.4 306.8l4.25 8.5h-8.5zM919.4 309.1l4.25 8.5h-8.5zM921.4 309.3l4.25 8.5h-8.5zM923.4 312.9l4.25 8.5h-8.5zM925.5 314.0l4.25 8.5h-8.5zM927.8 313.4l4.25 8.5h-8.5zM930.0 316.3l4.25 8.5h-8.5zM932.2 317.1l4.25 8.5h-8.5zM934.5 317.8l4.25 8.5h-8.5zM936.7 319.3l4.25 8.5h-8.5zM938.9 320.3l4.25 8.5h-8.5zM941.2 320.9l4.25 8.5h-8.5zM942.8 322.3l4.25 8.5h-8.5zM944.2 325.1l4.25 8.5h-8.5zM945.7 326.0l4.25 8.5h-8.5zM947.1 329.7l4.25 8.5h-8.5zM948.6 331.5l4.25 8.5h-8.5zM950.0 333.0l4.25 8.5h-8.5zM951.6 334.8l4.25 8.5h-8.5zM953.0 337.2l4.25 8.5h-8.5z"/>
<path fill="#ff0000" d="M952.0 350.5l4.25 8h-8.5zM954.4 350.7l4.25 8h-8.5zM956.9 349.8l4.25 8h-8.5zM958.7 348.0l4.25 8h-8.5zM960.1 346.5l4.25 8h-8.5zM961.5 342.8l4.25 8h-8.5zM963.2 342.3l4.25 8h-8.5zM965.1 340.9l4.25 8h-8.5zM966.7 342.0l4.25 8h-8.5zM968.2 344.5l4.25 8h-8.5zM969.7 345.9l4.25 8h-8.5zM971.2 346.8l4.25 8h-8.5zM972.7 348.7l4.25 8h-8.5zM974.2 351.9l4.25 8h-8.5zM975.6 354.6l4.25 8h-8.5zM977.8 354.6l4.25 8h-8.5zM980.1 355.9l4.25 8h-8.5zM982.3 356.2l4.25 8h-8.5zM984.5 357.3l4.25 8h-8.5zM986.8 359.3l4.25 8h-8.5zM989.1 359.7l4.25 8h-8.5zM990.7 360.4l4.25 8h-8.5z"/>
<path fill="none" stroke="#ff0000" stroke-width="2.8" stroke-linecap="butt" stroke-linejoin="miter" stroke-dasharray="22 7.4 22 5.5 13 0" d="M993.5 365.0 L993.5 435.0"/>
<rect x="991.80" y="500.00" width="4.40" height="27.00" fill="#000"/>
<path fill="none" stroke="#0000ff" stroke-width="2.6" stroke-linecap="butt" stroke-linejoin="miter" d="M991.2 494.8 L993.8 498.0"/>
<path fill="none" stroke="#0000ff" stroke-width="2.4" stroke-linecap="butt" stroke-linejoin="miter" d="M992.5 508.8 L995.0 514.0"/>
<rect x="119.50" y="85.50" width="49.60" height="3.40" fill="#000"/>
<rect x="119.50" y="111.20" width="15.80" height="3.00" fill="#0000ff"/>
<rect x="160.00" y="111.20" width="9.00" height="3.00" fill="#0000ff"/>
<rect x="141.2" y="108.8" width="18.8" height="21.2" rx="1.6" fill="#0000ff"/>
<rect x="119.50" y="137.00" width="15.80" height="3.00" fill="#ff0000"/>
<rect x="153.40" y="137.00" width="15.60" height="3.00" fill="#ff0000"/>
<path d="M144.3 136.2L148.4 144.2H140.2z" fill="#ff0000" stroke="#ff0000" stroke-width="2.4" stroke-linejoin="round"/>
<text x="65.20 75.30 88.50" y="25.20" font-size="19.3" fill="#000" stroke="#000" stroke-width="0.3" font-family="Liberation Sans, Arial, sans-serif" >330</text>
<text x="65.20 75.30 88.50" y="79.20" font-size="19.3" fill="#000" stroke="#000" stroke-width="0.3" font-family="Liberation Sans, Arial, sans-serif" >300</text>
<text x="65.20 75.30 88.50" y="136.20" font-size="19.3" fill="#000" stroke="#000" stroke-width="0.3" font-family="Liberation Sans, Arial, sans-serif" >270</text>
<text x="65.20 75.30 88.50" y="193.20" font-size="19.3" fill="#000" stroke="#000" stroke-width="0.3" font-family="Liberation Sans, Arial, sans-serif" >240</text>
<text x="65.20 75.30 88.50" y="247.95" font-size="19.3" fill="#000" stroke="#000" stroke-width="0.3" font-family="Liberation Sans, Arial, sans-serif" >210</text>
<text x="65.20 75.30 88.50" y="306.70" font-size="19.3" fill="#000" stroke="#000" stroke-width="0.3" font-family="Liberation Sans, Arial, sans-serif" >180</text>
<text x="65.20 75.30 88.50" y="362.20" font-size="19.3" fill="#000" stroke="#000" stroke-width="0.3" font-family="Liberation Sans, Arial, sans-serif" >150</text>
<text x="65.20 75.30 88.50" y="418.95" font-size="19.3" fill="#000" stroke="#000" stroke-width="0.3" font-family="Liberation Sans, Arial, sans-serif" >120</text>
<text x="75.30 88.50" y="473.70" font-size="19.3" fill="#000" stroke="#000" stroke-width="0.3" font-family="Liberation Sans, Arial, sans-serif" >90</text>
<text x="75.30 88.50" y="527.20" font-size="19.3" fill="#000" stroke="#000" stroke-width="0.3" font-family="Liberation Sans, Arial, sans-serif" >60</text>
<text x="75.30 88.50" y="581.95" font-size="19.3" fill="#000" stroke="#000" stroke-width="0.3" font-family="Liberation Sans, Arial, sans-serif" >30</text>
<text x="88.50" y="641.20" font-size="19.3" fill="#000" stroke="#000" stroke-width="0.3" font-family="Liberation Sans, Arial, sans-serif" >0</text>
<text x="113.70" y="657.70" font-size="18.9" fill="#000" stroke="#000" stroke-width="0.3" font-family="Liberation Sans, Arial, sans-serif" >0</text>
<text x="161.20 168.70 184.70" y="657.70" font-size="18.9" fill="#000" stroke="#000" stroke-width="0.3" font-family="Liberation Sans, Arial, sans-serif" >200</text>
<text x="212.95 222.95 237.95" y="657.70" font-size="18.9" fill="#000" stroke="#000" stroke-width="0.3" font-family="Liberation Sans, Arial, sans-serif" >400</text>
<text x="266.70 276.70 292.70" y="657.70" font-size="18.9" fill="#000" stroke="#000" stroke-width="0.3" font-family="Liberation Sans, Arial, sans-serif" >600</text>
<text x="334.20 347.70 361.20" y="657.70" font-size="18.9" fill="#000" stroke="#000" stroke-width="0.3" font-family="Liberation Sans, Arial, sans-serif" >200</text>
<text x="389.20 402.70 415.20" y="657.70" font-size="18.9" fill="#000" stroke="#000" stroke-width="0.3" font-family="Liberation Sans, Arial, sans-serif" >400</text>
<text x="443.20 452.20 469.50" y="657.70" font-size="18.9" fill="#000" stroke="#000" stroke-width="0.3" font-family="Liberation Sans, Arial, sans-serif" >600</text>
<text x="510.45 520.20 533.70" y="657.70" font-size="18.9" fill="#000" stroke="#000" stroke-width="0.3" font-family="Liberation Sans, Arial, sans-serif" >200</text>
<text x="565.45 576.20 587.95" y="657.70" font-size="18.9" fill="#000" stroke="#000" stroke-width="0.3" font-family="Liberation Sans, Arial, sans-serif" >400</text>
<text x="620.45 629.70 642.70" y="657.70" font-size="18.9" fill="#000" stroke="#000" stroke-width="0.3" font-family="Liberation Sans, Arial, sans-serif" >600</text>
<text x="689.95 698.70 710.45" y="657.70" font-size="18.9" fill="#000" stroke="#000" stroke-width="0.3" font-family="Liberation Sans, Arial, sans-serif" >200</text>
<text x="749.20 758.70 769.95" y="657.70" font-size="18.9" fill="#000" stroke="#000" stroke-width="0.3" font-family="Liberation Sans, Arial, sans-serif" >400</text>
<text x="801.20 810.45 824.50" y="657.70" font-size="18.9" fill="#000" stroke="#000" stroke-width="0.3" font-family="Liberation Sans, Arial, sans-serif" >600</text>
<text x="868.45 877.70 894.20" y="657.70" font-size="18.9" fill="#000" stroke="#000" stroke-width="0.3" font-family="Liberation Sans, Arial, sans-serif" >200</text>
<text x="922.70 932.70 947.70" y="657.70" font-size="18.9" fill="#000" stroke="#000" stroke-width="0.3" font-family="Liberation Sans, Arial, sans-serif" >400</text>
<text x="976.70 986.70 1002.70" y="657.70" font-size="18.9" fill="#000" stroke="#000" stroke-width="0.3" font-family="Liberation Sans, Arial, sans-serif" >600</text>
<text x="217.70 231.00 246.30" y="42.59" font-size="21.8" fill="#000" stroke="#000" stroke-width="0.3" font-family="Liberation Sans, Arial, sans-serif"  transform="scale(1,1.12)">30?</text>
<text x="386.30 402.00 417.50" y="47.41" font-size="21.8" fill="#000" stroke="#000" stroke-width="0.3" font-family="Liberation Sans, Arial, sans-serif"  transform="scale(1,1.12)">40?</text>
<text x="566.00 583.50 597.50" y="46.96" font-size="21.8" fill="#000" stroke="#000" stroke-width="0.3" font-family="Liberation Sans, Arial, sans-serif"  transform="scale(1,1.12)">50?</text>
<text x="753.60 767.00 785.60" y="48.04" font-size="21.8" fill="#000" stroke="#000" stroke-width="0.3" font-family="Liberation Sans, Arial, sans-serif"  transform="scale(1,1.12)">60?</text>
<text x="920.90 936.00 949.20" y="50.45" font-size="21.8" fill="#000" stroke="#000" stroke-width="0.3" font-family="Liberation Sans, Arial, sans-serif"  transform="scale(1,1.12)">70?</text>
<text x="173.80 185.00 189.80" y="91.90" font-size="17.5" fill="#000" stroke="#000" stroke-width="0.3" font-family="Liberation Sans, Arial, sans-serif" >P R</text>
<text x="174.50 183.00 187.60 201.80 214.00 221.20" y="119.80" font-size="17.5" fill="#0000ff" stroke="#0000ff" stroke-width="0.3" font-family="Liberation Sans, Arial, sans-serif" >1 MP R</text>
<text x="173.80 183.00 187.60 201.80 214.00 221.20" y="146.20" font-size="17.5" fill="#ff0000" stroke="#ff0000" stroke-width="0.3" font-family="Liberation Sans, Arial, sans-serif" >3 MP R</text>
<text x="511.00 520.50 526.30 549.50 565.20 574.00 580.80" y="662.38" font-size="21.3" fill="#000" stroke="#000" stroke-width="0.3" font-family="Liberation Sans, Arial, sans-serif"  transform="scale(1,1.05)">time/ s</text>
<text transform="translate(44,350) rotate(-90) scale(1.13,1)" font-size="22.5" font-family="Liberation Sans, Arial, sans-serif" fill="#000" stroke="#000" stroke-width="0.3" x="0.9 6 11 17 23.6 37.4 50 56.8 68.4">j / µA cm</text>
<text transform="translate(26.6,244) rotate(-90)" font-size="13" font-family="Liberation Sans, Arial, sans-serif" fill="#000" x="0 7.2">-2</text>
</svg></body></html>
